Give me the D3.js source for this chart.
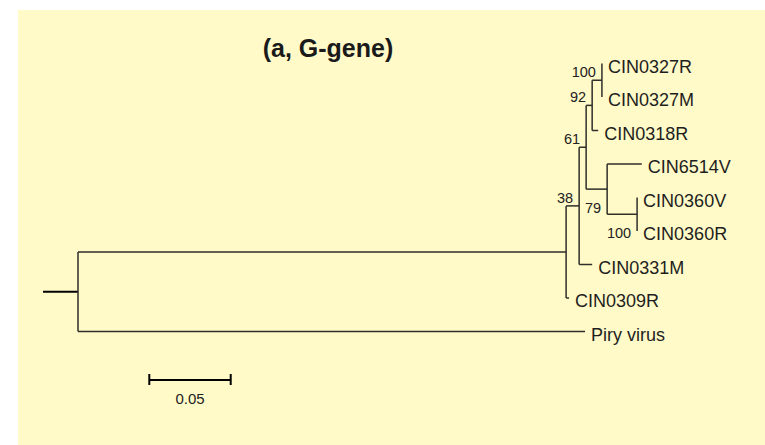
<!DOCTYPE html>
<html>
<head>
<meta charset="utf-8">
<script src="https://cdn.jsdelivr.net/npm/d3@7/dist/d3.min.js"></script>
<style>
  html, body { margin: 0; padding: 0; background: #ffffff; }
  svg { display: block; }
  text { font-family: "Liberation Sans", Arial, sans-serif; }
</style>
</head>
<body>
<svg id="chart" width="765" height="445"></svg>
<script>
// ---- Data ----
const title = "(a, G-gene)";
const taxa = ["CIN0327R","CIN0327M","CIN0318R","CIN6514V","CIN0360V","CIN0360R","CIN0331M","CIN0309R","Piry virus"];
const nodeNames = ["root","A","B","D","C","G","E","F",
  "CIN0327R","CIN0327M","CIN0318R","CIN6514V","CIN0360V","CIN0360R","CIN0331M","CIN0309R","Piry virus"];
const parentNames = ["","root","A","B","D","C","D","E",
  "G","G","C","E","F","F","B","A","root"];
const branchLengths = [0, 0.2998, 0.0080, 0.0043, 0.0037, 0.0060, 0.0129, 0.0184,
  0, 0, 0.0037, 0.0213, 0, 0, 0.0080, 0.0018, 0.3114];
const bootstrap = [null, null, 38, 61, 92, 100, 79, 100,
  null, null, null, null, null, null, null, null, null];
const scaleBarValue = 0.05;
const scaleBarLabel = "0.05";

// ---- Build tree ----
const rows = nodeNames.map((n, i) => ({ id: n, parent: parentNames[i] || null, len: branchLengths[i], boot: bootstrap[i] }));
const root = d3.stratify().id(d => d.id).parentId(d => d.parent)(rows);
root.each(d => { d.dist = (d.parent ? d.parent.dist : 0) + d.data.len; });

const outgroup = root.leaves().find(d => d.id === taxa[taxa.length - 1]);
const x = d3.scaleLinear().domain([0, outgroup.dist]).range([78, 585]);
const y = d3.scalePoint().domain(taxa).range([63.5, 331.5]);

root.eachAfter(d => {
  if (!d.children) { d.py = y(d.id); }
  else {
    const ys = d.children.map(c => c.py);
    d.py = (d3.min(ys) + d3.max(ys)) / 2;
  }
});

// ---- Draw ----
const svg = d3.select("#chart");
svg.append("rect").attr("x", 18).attr("y", 10).attr("width", 765 - 18).attr("height", 445 - 10)
  .attr("fill", "#fffac8");

svg.append("text").attr("x", 328).attr("y", 57).attr("text-anchor", "middle")
  .attr("font-size", 25).attr("font-weight", "bold").attr("fill", "#1a1a1a").text(title);

const lineColor = "#2e2e2a";
const g = svg.append("g").attr("fill", "none").attr("stroke", lineColor).attr("stroke-width", 1.5);

// root stub
g.append("line").attr("x1", 43).attr("x2", x(0)).attr("y1", root.py).attr("y2", root.py)
  .attr("stroke", "#000").attr("stroke-width", 2);

root.descendants().forEach(d => {
  if (d.children) {
    const ys = d.children.map(c => c.py);
    g.append("line").attr("x1", x(d.dist)).attr("x2", x(d.dist))
      .attr("y1", d3.min(ys)).attr("y2", d3.max(ys));
  }
  if (d.parent && d.data.len > 0) {
    g.append("line").attr("x1", x(d.parent.dist)).attr("x2", x(d.dist))
      .attr("y1", d.py).attr("y2", d.py);
  }
});

// tip labels
svg.append("g").selectAll("text").data(root.leaves()).join("text")
  .attr("x", d => x(d.dist) + 6).attr("y", d => d.py + 9)
  .attr("font-size", 18).attr("fill", "#1e1e1e").text(d => d.id);

// bootstrap labels: above if node is the upper child of its parent, else below
const bootNodes = root.descendants().filter(d => d.data.boot != null);
svg.append("g").selectAll("text").data(bootNodes).join("text")
  .attr("x", d => x(d.dist) - 6)
  .attr("y", d => {
    const sib = d.parent.children.filter(c => c !== d);
    const upper = sib.every(s => s.py > d.py);
    return upper ? d.py - 3 : d.py + 24;
  })
  .attr("text-anchor", "end").attr("font-size", 14.5).attr("fill", "#222").text(d => d.data.boot);

// scale bar
const sbX = 149.3, sbY = 380;
const sbW = x(scaleBarValue) - x(0);
const sb = svg.append("g").attr("stroke", "#000").attr("stroke-width", 2);
sb.append("line").attr("x1", sbX).attr("x2", sbX + sbW).attr("y1", sbY).attr("y2", sbY);
sb.append("line").attr("x1", sbX).attr("x2", sbX).attr("y1", sbY - 6).attr("y2", sbY + 5);
sb.append("line").attr("x1", sbX + sbW).attr("x2", sbX + sbW).attr("y1", sbY - 6).attr("y2", sbY + 5);
svg.append("text").attr("x", sbX + sbW / 2).attr("y", 404).attr("text-anchor", "middle")
  .attr("font-size", 15).attr("fill", "#222").text(scaleBarLabel);
</script>
</body>
</html>
